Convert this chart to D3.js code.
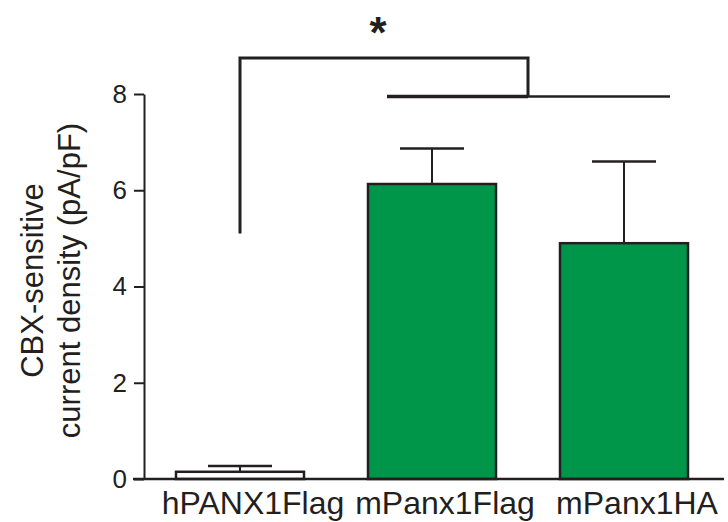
<!DOCTYPE html>
<html>
<head>
<meta charset="utf-8">
<script src="https://cdn.jsdelivr.net/npm/d3@7"></script>
<style>
  body { margin: 0; background: #fff; }
  svg { display: block; font-family: "Liberation Sans", Arial, sans-serif; }
</style>
</head>
<body>
<main></main>
<script>
// chart data
const groups = ['hPANX1Flag', 'mPanx1Flag', 'mPanx1HA'];
const means = [0.15, 6.13, 4.9];
const sems = [0.12, 0.74, 1.7];
const fills = ['#ffffff', '#00964a', '#00964a'];
const yTicks = [0, 2, 4, 6, 8];

// significance bracket levels (data units)
const bracketTop = 8.75;
const bracketLow = 7.95;
const bracketLeftEnd = 5.1;

const w = 728;
const h = 522;
const ink = '#231f20';

const svg = d3.select('main').append('svg').attr('width', w).attr('height', h);

const x = d3.scaleBand().domain(groups).range([144, 720]).paddingInner(1 / 3).paddingOuter(1 / 6);
const y = d3.scaleLinear().domain([0, 8]).range([479, 94]);

// y axis
const yAxis = svg
  .append('g')
  .attr('transform', `translate(${x.range()[0]},0)`)
  .call(d3.axisLeft(y).tickValues(yTicks).tickSize(10).tickSizeOuter(0).tickPadding(7));
yAxis.select('.domain').attr('stroke', ink).attr('stroke-width', 2);
yAxis.selectAll('.tick line').attr('stroke', ink).attr('stroke-width', 2);
yAxis.selectAll('.tick text').attr('fill', ink).style('font-size', '26px').style('font-family', 'Liberation Sans, Arial, sans-serif');

// axis title
const title = svg
  .append('text')
  .attr('transform', `translate(0,${(y(0) + y(8)) / 2 - 6}) rotate(-90)`)
  .attr('text-anchor', 'middle')
  .attr('fill', ink)
  .style('font-size', '31px');
title.append('tspan').attr('x', 0).attr('y', 43).text('CBX-sensitive');
title.append('tspan').attr('x', 0).attr('y', 80).text('current density (pA/pF)');

// bars
const cell = svg.selectAll('g.bar').data(groups).enter().append('g').attr('class', 'bar');

cell
  .append('line')
  .attr('x1', (d) => x(d) + x.bandwidth() / 2)
  .attr('x2', (d) => x(d) + x.bandwidth() / 2)
  .attr('y1', (d, i) => y(means[i]))
  .attr('y2', (d, i) => y(means[i] + sems[i]))
  .attr('stroke', ink)
  .attr('stroke-width', 2);

cell
  .append('line')
  .attr('x1', (d) => x(d) + x.bandwidth() / 4)
  .attr('x2', (d) => x(d) + (x.bandwidth() * 3) / 4)
  .attr('y1', (d, i) => y(means[i] + sems[i]))
  .attr('y2', (d, i) => y(means[i] + sems[i]))
  .attr('stroke', ink)
  .attr('stroke-width', 2.5);

cell
  .append('rect')
  .attr('x', (d) => x(d))
  .attr('y', (d, i) => y(means[i]))
  .attr('width', x.bandwidth())
  .attr('height', (d, i) => y(0) - y(means[i]))
  .attr('fill', (d, i) => fills[i])
  .attr('stroke', ink)
  .attr('stroke-width', 2.5);

// x axis
const xAxis = svg
  .append('g')
  .attr('transform', `translate(0,${y(0)})`)
  .call(d3.axisBottom(x).tickSize(0).tickPadding(12));
xAxis.select('.domain').remove();
xAxis.selectAll('.tick text').attr('fill', ink).attr('dx', 13).style('font-size', '32px').style('font-family', 'Liberation Sans, Arial, sans-serif');
svg
  .append('line')
  .attr('x1', x.range()[0] - 11)
  .attr('x2', x.range()[1] + 4)
  .attr('y1', y(0))
  .attr('y2', y(0))
  .attr('stroke', ink)
  .attr('stroke-width', 2.5);

// significance bracket
const c0 = x(groups[0]) + x.bandwidth() / 2;
const c1 = x(groups[1]) + x.bandwidth() / 2;
const c2 = x(groups[2]) + x.bandwidth() / 2;
const mid = (c1 + c2) / 2;

svg
  .append('path')
  .attr('d', `M${c0},${y(bracketLeftEnd)}V${y(bracketTop)}H${mid}V${y(bracketLow)}`)
  .attr('fill', 'none')
  .attr('stroke', ink)
  .attr('stroke-width', 3);
svg
  .append('line')
  .attr('x1', x(groups[1]) + 19)
  .attr('x2', mid)
  .attr('y1', y(bracketLow))
  .attr('y2', y(bracketLow))
  .attr('stroke', ink)
  .attr('stroke-width', 3.5);
svg
  .append('line')
  .attr('x1', mid)
  .attr('x2', x(groups[2]) + x.bandwidth() - 18)
  .attr('y1', y(bracketLow))
  .attr('y2', y(bracketLow))
  .attr('stroke', ink)
  .attr('stroke-width', 2.5);

svg
  .append('text')
  .attr('x', (c0 + mid) / 2 - 6)
  .attr('y', 48)
  .attr('text-anchor', 'middle')
  .attr('fill', ink)
  .style('font-size', '44px')
  .style('font-weight', 'bold')
  .text('*');
</script>
</body>
</html>
